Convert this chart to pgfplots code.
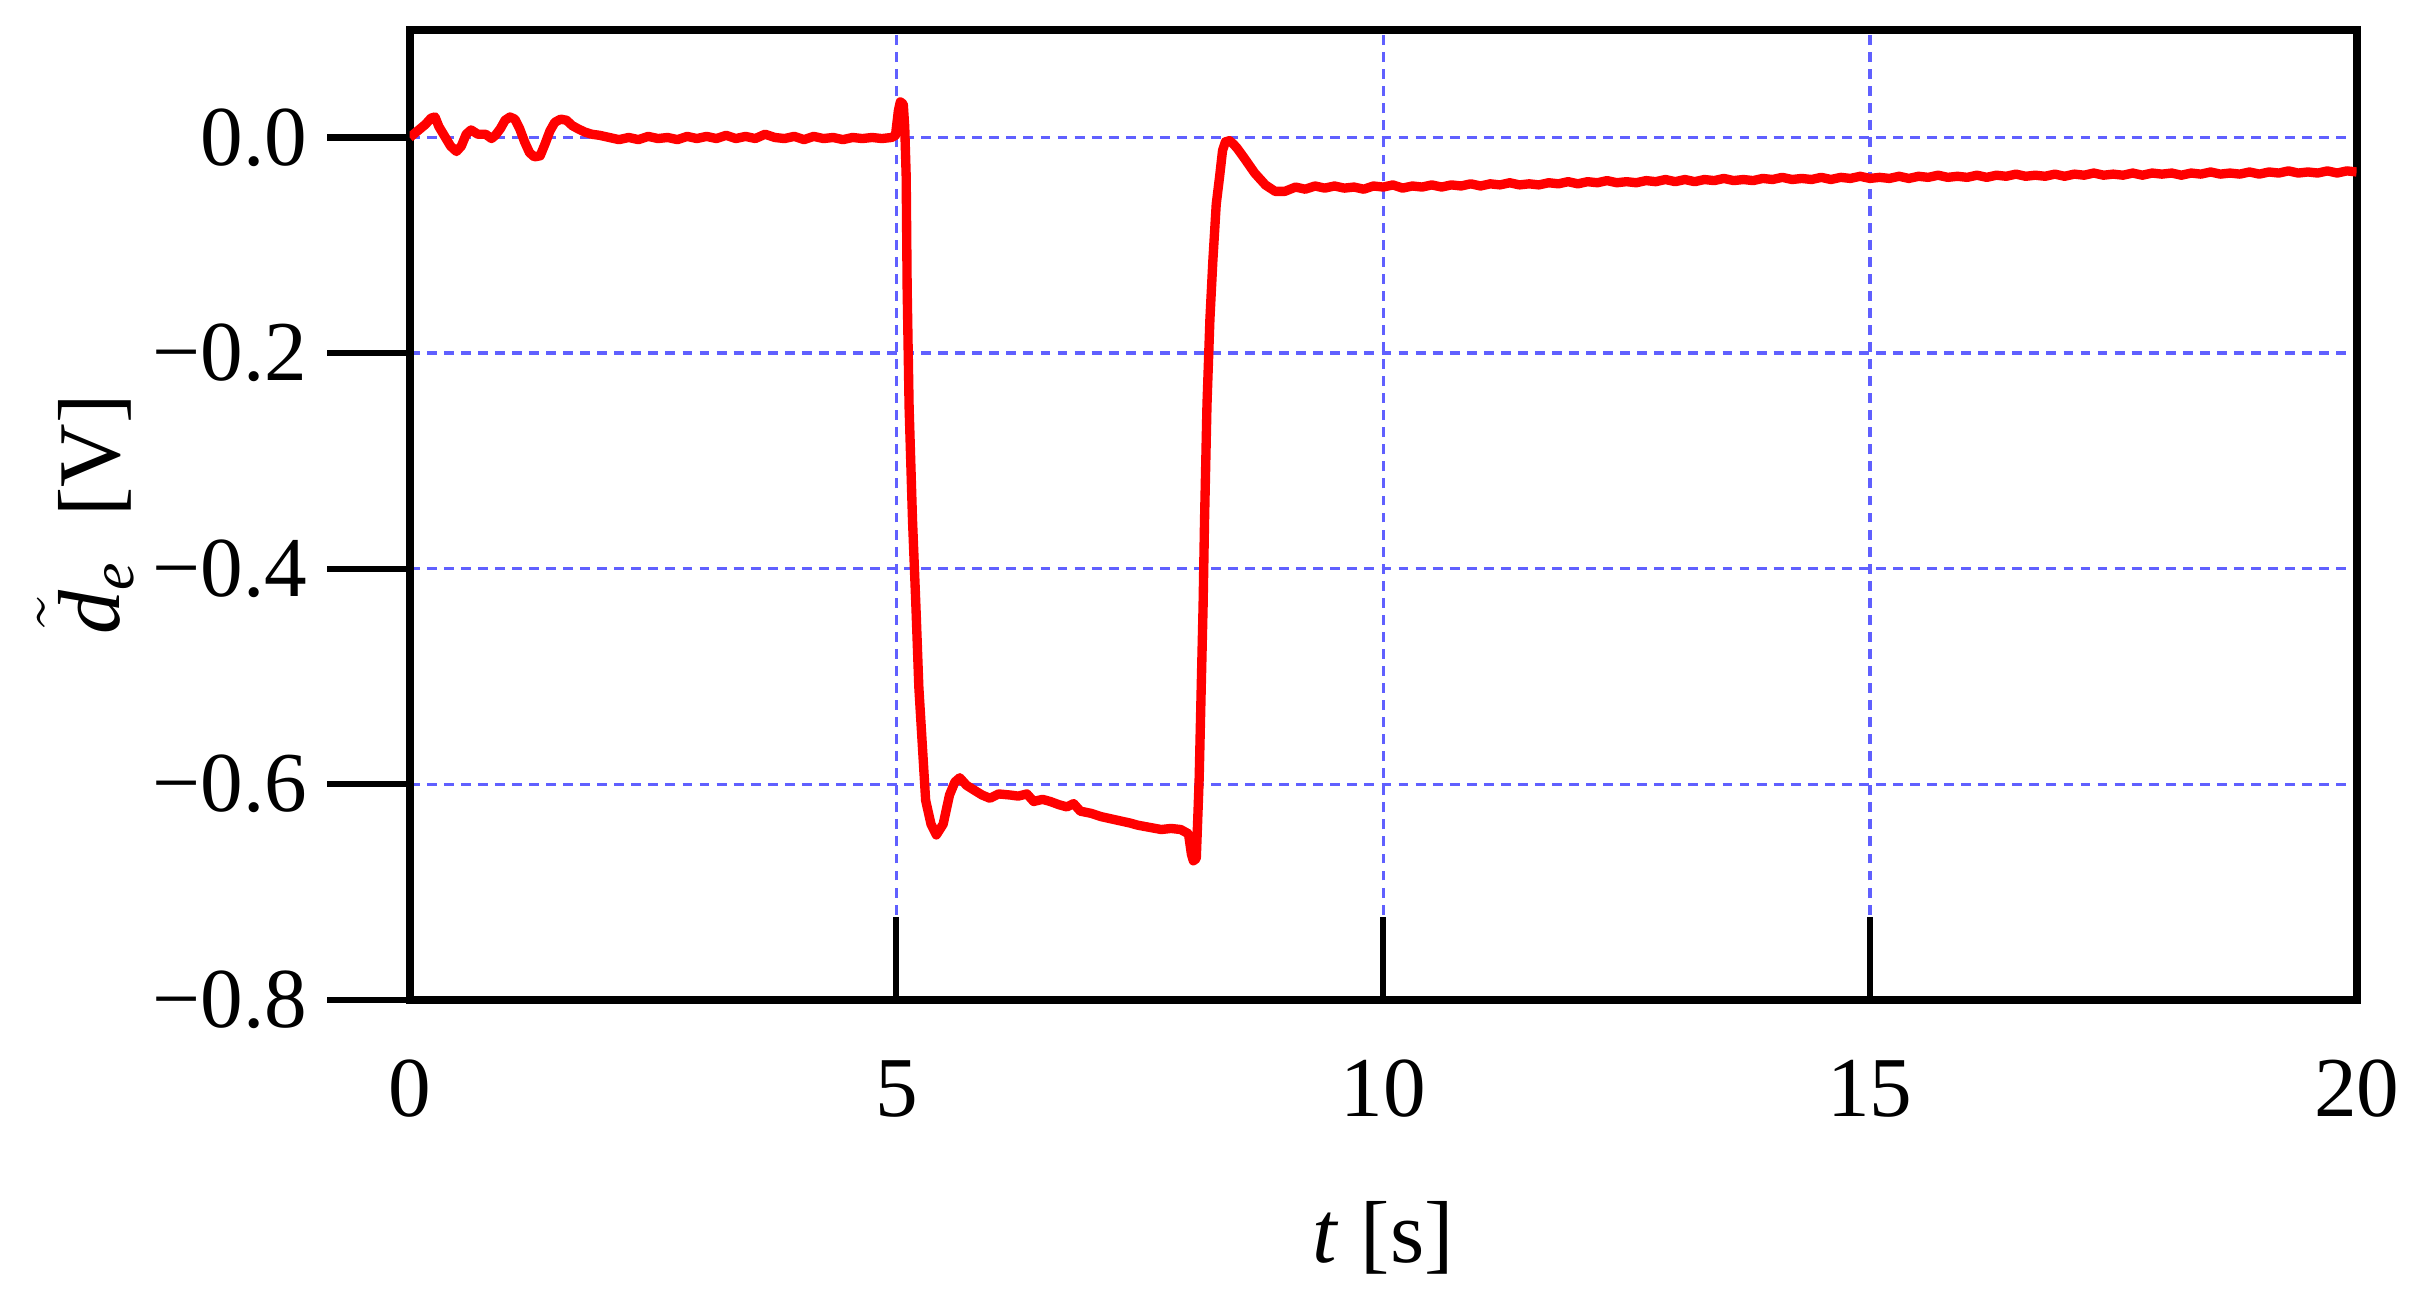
\documentclass[border=0pt]{standalone}
\usepackage{fontspec}
\setmainfont{Liberation Serif}
\usepackage{pgfplots}
\pgfplotsset{compat=1.18}
\definecolor{gridblue}{RGB}{96,96,255}

\begin{document}
\begin{tikzpicture}
\path[use as bounding box] (-74.5pt,-55.5pt) rectangle (365.7pt,181.8pt);
\begin{axis}[
  name=ax, at={(0,0)}, anchor=south west,
  scale only axis, width=354pt, height=176.4pt,
  xmin=0, xmax=20, ymin=-0.8, ymax=0.1,
  xtick={0,5,10,15,20}, xticklabels={0,5,10,15,20},
  ytick={-0.8,-0.6,-0.4,-0.2,0}, yticklabels={−0.8,−0.6,−0.4,−0.2,0.0},
  xtick pos=left, ytick pos=left,
  xtick align=inside, ytick align=outside,
  major tick length=15pt,
  every tick/.style={black, line width=1.1pt},
  axis line style={line width=1.5pt},
  grid=major,
  major grid style={gridblue, line width=0.6pt, dash pattern=on 1.8pt off 1.3pt},
  tick label style={font=\fontsize{15.5}{18}\selectfont},
  xticklabel style={anchor=center, yshift=-16.2pt},
  yticklabel style={anchor=east, inner sep=0pt, xshift=-3.4pt},
  xlabel={\textit{t} [s]},
  ylabel={$\tilde{\textit{d}}$\textsubscript{\textit{e}}\hspace{0.5em}[V]},
  label style={font=\fontsize{16}{19}\selectfont},
  xlabel style={at={([yshift=-43.3pt]axis description cs:0.5,0)}, anchor=center},
  ylabel style={at={([xshift=-58.9pt]axis description cs:0,0.5)}, anchor=center},
]
\addplot[red, line width=1.7pt, line join=round] coordinates {
(0,0) (0.08,0.006) (0.16,0.012) (0.22,0.018) (0.26,0.019) (0.30,0.010) (0.36,0.001)
(0.42,-0.008) (0.48,-0.013) (0.53,-0.008) (0.58,0.003) (0.63,0.007) (0.70,0.003)
(0.78,0.003) (0.84,-0.001) (0.88,0.002) (0.93,0.008) (0.98,0.016) (1.03,0.019)
(1.08,0.017) (1.13,0.008) (1.18,-0.004) (1.23,-0.014) (1.28,-0.018) (1.34,-0.017)
(1.39,-0.006) (1.44,0.006) (1.49,0.014) (1.55,0.017) (1.61,0.016) (1.67,0.011)
(1.73,0.008) (1.80,0.005) (1.87,0.003) (1.95,0.002) (2.05,0.000) (2.15,-0.002)
(2.25,0.000) (2.35,-0.002) (2.45,0.001) (2.55,-0.001) (2.65,0.000) (2.75,-0.002)
(2.85,0.001) (2.95,-0.001) (3.05,0.001) (3.15,-0.001) (3.25,0.002) (3.35,-0.001)
(3.45,0.001) (3.55,-0.001) (3.65,0.003) (3.75,0.000) (3.85,-0.001) (3.95,0.001)
(4.05,-0.002) (4.15,0.001) (4.25,-0.001) (4.35,0.000) (4.45,-0.002) (4.55,0.000)
(4.65,-0.001) (4.75,0.000) (4.85,-0.001) (4.95,0.000) (4.99,0.002) (5.02,0.025)
(5.04,0.033) (5.07,0.031) (5.085,0.010) (5.10,-0.036) (5.11,-0.14) (5.13,-0.25)
(5.165,-0.355) (5.20,-0.435) (5.23,-0.51) (5.27,-0.57) (5.30,-0.615) (5.355,-0.637)
(5.41,-0.647) (5.48,-0.637) (5.545,-0.61) (5.60,-0.598) (5.65,-0.594) (5.72,-0.601)
(5.79,-0.605) (5.88,-0.610) (5.96,-0.613) (6.05,-0.609) (6.17,-0.610) (6.25,-0.611)
(6.34,-0.609) (6.41,-0.616) (6.50,-0.614) (6.58,-0.616) (6.67,-0.619) (6.75,-0.621)
(6.82,-0.618) (6.89,-0.625) (7.00,-0.627) (7.10,-0.630) (7.20,-0.632) (7.30,-0.634)
(7.40,-0.636) (7.48,-0.638) (7.60,-0.640) (7.72,-0.642) (7.82,-0.641) (7.92,-0.642)
(8.00,-0.646) (8.03,-0.665) (8.05,-0.671) (8.08,-0.669) (8.10,-0.620) (8.11,-0.594)
(8.13,-0.514) (8.15,-0.435) (8.165,-0.355) (8.19,-0.248) (8.22,-0.169) (8.25,-0.115)
(8.285,-0.062) (8.32,-0.036) (8.35,-0.012) (8.38,-0.004) (8.42,-0.003) (8.46,-0.006)
(8.50,-0.010) (8.58,-0.020) (8.68,-0.033) (8.79,-0.044) (8.89,-0.050) (8.99,-0.050)
(9.1,-0.046) (9.2,-0.048) (9.3,-0.045) (9.4,-0.047) (9.5,-0.045) (9.6,-0.047)
(9.7,-0.046) (9.8,-0.048) (9.9,-0.045) (10.0,-0.046) (10.1,-0.044) (10.2,-0.047)
(10.3,-0.045) (10.4,-0.046) (10.5,-0.044) (10.6,-0.046) (10.7,-0.044) (10.8,-0.045)
(10.9,-0.043) (11.0,-0.045) (11.1,-0.043) (11.2,-0.044) (11.3,-0.042) (11.4,-0.044)
(11.5,-0.043) (11.6,-0.044) (11.7,-0.042) (11.8,-0.043) (11.9,-0.041) (12.0,-0.043)
(12.1,-0.041) (12.2,-0.042) (12.3,-0.040) (12.4,-0.042) (12.5,-0.041) (12.6,-0.042)
(12.7,-0.040) (12.8,-0.041) (12.9,-0.039) (13.0,-0.041) (13.1,-0.039) (13.2,-0.041)
(13.3,-0.039) (13.4,-0.040) (13.5,-0.038) (13.6,-0.040) (13.7,-0.039) (13.8,-0.040)
(13.9,-0.038) (14.0,-0.039) (14.1,-0.037) (14.2,-0.039) (14.3,-0.038) (14.4,-0.039)
(14.5,-0.037) (14.6,-0.039) (14.7,-0.037) (14.8,-0.038) (14.9,-0.036) (15.0,-0.038)
(15.1,-0.037) (15.2,-0.038) (15.3,-0.036) (15.4,-0.038) (15.5,-0.036) (15.6,-0.037)
(15.7,-0.035) (15.8,-0.037) (15.9,-0.036) (16.0,-0.037) (16.1,-0.035) (16.2,-0.037)
(16.3,-0.035) (16.4,-0.036) (16.5,-0.034) (16.6,-0.036) (16.7,-0.035) (16.8,-0.036)
(16.9,-0.034) (17.0,-0.036) (17.1,-0.034) (17.2,-0.035) (17.3,-0.033) (17.4,-0.035)
(17.5,-0.034) (17.6,-0.035) (17.7,-0.033) (17.8,-0.035) (17.9,-0.033) (18.0,-0.034)
(18.1,-0.033) (18.2,-0.035) (18.3,-0.033) (18.4,-0.034) (18.5,-0.032) (18.6,-0.034)
(18.7,-0.033) (18.8,-0.034) (18.9,-0.032) (19.0,-0.034) (19.1,-0.032) (19.2,-0.033)
(19.3,-0.031) (19.4,-0.033) (19.5,-0.032) (19.6,-0.033) (19.7,-0.031) (19.8,-0.033)
(19.9,-0.031) (20.0,-0.032)
};
\end{axis}
\end{tikzpicture}
\end{document}
